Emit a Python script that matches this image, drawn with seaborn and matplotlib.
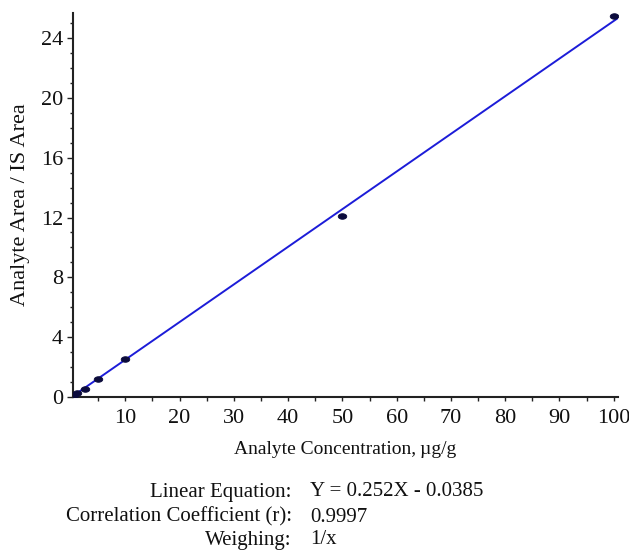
import numpy as np
import pandas as pd
import matplotlib
matplotlib.use("Agg")
import matplotlib.pyplot as plt
from matplotlib.ticker import MultipleLocator
import seaborn as sns

# Calibration standards
concentration = [0.5, 1.0, 2.5, 5.0, 10.0, 50.0, 100.0]          # µg/g
area_ratio = [0.09, 0.22, 0.52, 1.17, 2.50, 12.12, 25.48]         # analyte / IS

# Weighted (1/x) linear fit
slope = 0.252
intercept = -0.0385
r_value = 0.9997

x_ticks = [10, 20, 30, 40, 50, 60, 70, 80, 90, 100]
y_ticks = [0, 4, 8, 12, 16, 20, 24]

sns.set_theme(style="ticks")
plt.rcParams["font.family"] = ["Liberation Serif", "DejaVu Serif"]

fig = plt.figure(figsize=(6.29, 5.51), dpi=100)
ax = fig.add_axes([0.1156, 0.280, 0.867, 0.696])

xlim = (0.3, 100.8)
fit_x = np.linspace(xlim[0], xlim[1], 200)
fit = pd.DataFrame({"x": fit_x, "y": slope * fit_x + intercept})
pts = pd.DataFrame({"x": concentration, "y": area_ratio})

sns.lineplot(data=fit, x="x", y="y", ax=ax, color="#1c1cd8", linewidth=1.4)

# flattened elliptical marker
t = np.linspace(0, 2 * np.pi, 40)
ellipse = np.column_stack([np.cos(t), 0.65 * np.sin(t)])
sns.scatterplot(data=pts, x="x", y="y", ax=ax, marker=ellipse, s=38,
                color="#0b0b3c", edgecolor="#0b0b3c", linewidth=0.6, zorder=3)

ax.set_xlim(*xlim)
ax.set_ylim(0, 25.68)
ax.set_xticks(x_ticks)
ax.set_yticks(y_ticks)
ax.xaxis.set_minor_locator(MultipleLocator(5))
ax.yaxis.set_minor_locator(MultipleLocator(1))
ax.tick_params(axis="both", which="major", labelsize=16, colors="#222222",
               labelcolor="#111111", width=1.0)
ax.tick_params(axis="x", which="major", length=3, direction="out", pad=6)
ax.tick_params(axis="x", which="minor", length=3, direction="out", width=1.0, colors="#222222")
ax.tick_params(axis="y", which="major", length=4, direction="out", pad=3)
ax.tick_params(axis="y", which="minor", length=2.5, direction="out", width=1.0, colors="#222222")

for side in ("top", "right"):
    ax.spines[side].set_visible(False)
for side in ("left", "bottom"):
    ax.spines[side].set_linewidth(1.5)
    ax.spines[side].set_color("#222222")

ax.set_xlabel("Analyte Concentration,\u2009µg/g", fontsize=14, labelpad=9, color="#111111")
ax.set_ylabel("Analyte Area / IS Area", fontsize=16, labelpad=8, color="#111111")

labels = ["Linear Equation:", "Correlation Coefficient (r):", "Weighing:"]
values = [f"Y = {slope:.3f}X - {abs(intercept):.4f}", f"{r_value:.4f}", "1/x"]
rows_y = [492, 517, 540]
for lab, val, py in zip(labels, values, rows_y):
    fy = 1 - py / 551
    fig.text(292 / 629, fy, lab, ha="right", va="center", fontsize=15, color="#111111")
    fig.text(310 / 629, fy, val, ha="left", va="center", fontsize=15, color="#111111")

fig.savefig("out.png", dpi=100)
